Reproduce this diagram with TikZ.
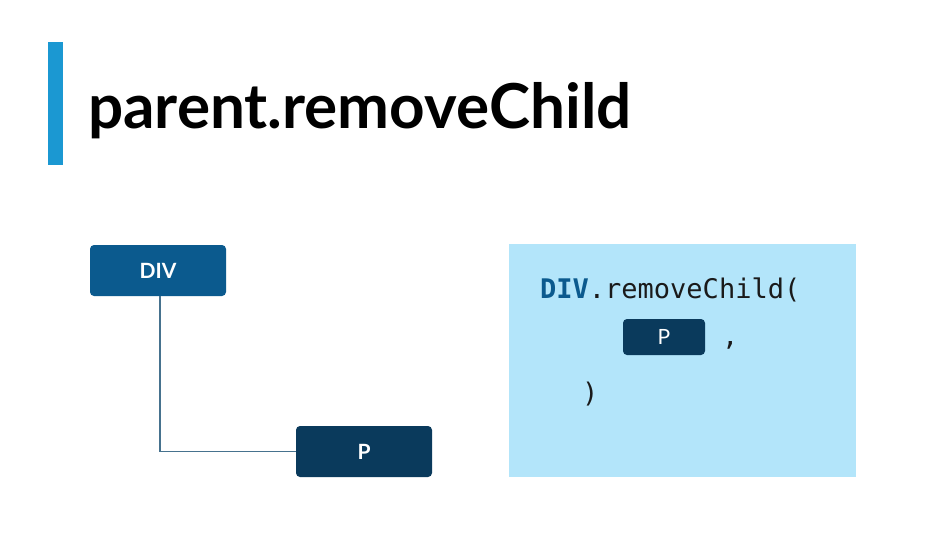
\documentclass[tikz,border=0pt]{standalone}
\usepackage{fontspec}
\setmainfont{Lato}
\newfontfamily\codefont{DejaVu Sans Mono}
\definecolor{barblue}{HTML}{1B98D2}
\definecolor{divblue}{HTML}{0B5A8E}
\definecolor{pnavy}{HTML}{0A3A5C}
\definecolor{panelblue}{HTML}{B3E5FA}
\definecolor{linkcol}{HTML}{46728E}
\definecolor{codeblack}{HTML}{1A1A1A}
\begin{document}
\begin{tikzpicture}[x=1pt,y=-1pt,
  box/.style={rounded corners=4pt,inner sep=0pt,text=white,font=\bfseries\fontsize{21}{24}\selectfont},
  codetext/.style={anchor=base west,inner sep=0pt,text=codeblack,font=\codefont\fontsize{27}{32}\selectfont}]
\useasboundingbox[fill=white] (0,0) rectangle (927,541);
% title bar and title
\fill[barblue] (48,42) rectangle (63,165);
\node[anchor=base west,inner sep=0pt,font=\bfseries\fontsize{62}{70}\selectfont] (title) at (88,128) {parent.removeChild};
% tree
\node[box,fill=divblue,minimum width=136pt,minimum height=51pt] (div) at (158,270.5) {DIV};
\node[box,fill=pnavy,minimum width=136pt,minimum height=51pt] (p) at (364,451.5) {P};
\coordinate (top) at ([xshift=2pt]div.south);
\coordinate (corner) at (top |- p.west);
\draw[linkcol,line width=1.6pt] (top) -- (corner) -- (p.west);
% code panel
\fill[panelblue] (509,244) rectangle (856,477);
\node[codetext] (code1) at (540,298) {\textcolor{divblue}{\bfseries DIV}.removeChild(};
\node[box,fill=pnavy,minimum width=82pt,minimum height=36pt,font=\fontsize{21}{24}\selectfont] (arg) at (664,337) {P};
\node[codetext] (comma) at (722,345) {,};
\node[codetext] (close) at (582,402) {)};
\end{tikzpicture}
\end{document}
